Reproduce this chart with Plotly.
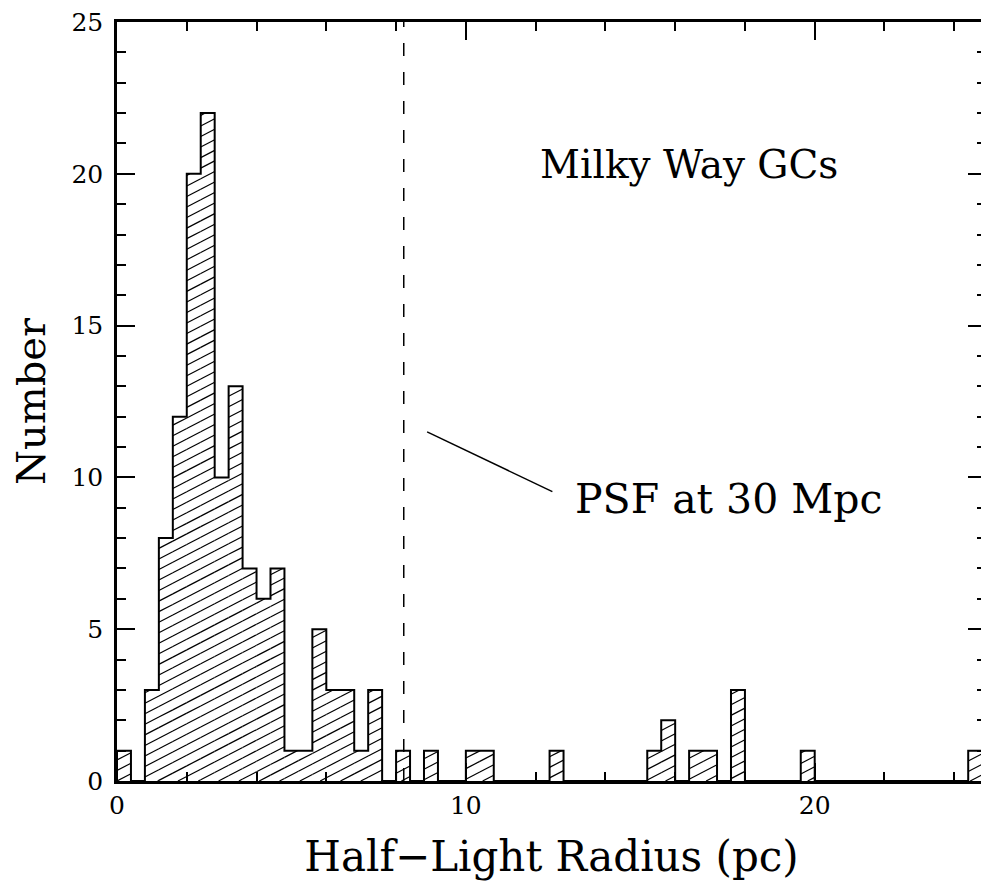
"""Half-light radius distribution of Milky Way globular clusters (Plotly)."""

import numpy as np
import plotly.graph_objects as go

# histogram: bins of 0.4 pc starting at 0
bin_width = 0.4
counts = [
    1, 0, 3, 8, 12, 20, 22, 10, 13, 7,
    6, 7, 1, 1, 5, 3, 3, 1, 3, 0,
    1, 0, 1, 0, 0, 1, 1, 0, 0, 0,
    0, 1, 0, 0, 0, 0, 0, 0, 1, 2,
    0, 1, 1, 0, 3, 0, 0, 0, 0, 1,
    0, 0, 0, 0, 0, 0, 0, 0, 0, 0,
    0, 1,
]
bin_left = [i * bin_width for i in range(len(counts))]

psf_radius = 8.22          # pc, PSF size at 30 Mpc
label_gc = "Milky Way GCs"
label_psf = "PSF at 30 Mpc"
pointer_x = [8.89, 12.48]
pointer_y = [11.5, 9.53]

FONT = "DejaVu Serif"
X_MAX = 24.91
Y_MAX = 25

# the page body adds ~8px around the figure, so the figure is 8px smaller
W, H = 981, 876
M = dict(l=109, r=0, t=10, b=103)

# plot area in pixels (used only to keep the hatch angle like the original)
PX_X = (W - M["l"] - M["r"]) / X_MAX
PX_Y = (H - M["t"] - M["b"]) / Y_MAX

# step outline of the histogram
out_x, out_y = [0.0], [0.0]
for x0, c in zip(bin_left, counts):
    out_x += [x0, x0 + bin_width]
    out_y += [c, c]
out_x.append(bin_left[-1] + bin_width)
out_y.append(0)

# diagonal hatching clipped to each bin
slope = 0.52 * PX_X / PX_Y
spacing = 10.6 / PX_Y
hx, hy = [], []
for x0, c in zip(bin_left, counts):
    if c <= 0:
        continue
    x1 = x0 + bin_width
    k_lo = int(np.floor((-slope * x1) / spacing)) - 1
    k_hi = int(np.ceil((c - slope * x0) / spacing)) + 1
    for k in range(k_lo, k_hi + 1):
        b = k * spacing
        xa = max(x0, (0 - b) / slope)
        xb = min(x1, (c - b) / slope)
        if xb - xa > 1e-6:
            hx += [xa, xb, None]
            hy += [slope * xa + b, slope * xb + b, None]

fig = go.Figure()
fig.add_trace(go.Scatter(
    x=hx, y=hy, mode="lines",
    line=dict(color="black", width=1.2),
    hoverinfo="skip",
))
fig.add_trace(go.Scatter(
    x=out_x, y=out_y, mode="lines",
    line=dict(color="black", width=2),
    hoverinfo="skip",
))
fig.add_trace(go.Scatter(
    x=pointer_x, y=pointer_y, mode="lines",
    line=dict(color="black", width=1.5),
    hoverinfo="skip",
))

fig.add_shape(
    type="line", x0=psf_radius, x1=psf_radius, y0=0, y1=Y_MAX,
    xref="x", yref="y",
    line=dict(color="black", width=1.5, dash="13px,16px"),
)

fig.add_annotation(
    x=12.06, y=20.3, text=label_gc, showarrow=False,
    xanchor="left", yanchor="middle",
    font=dict(family=FONT, size=39, color="black"),
)
fig.add_annotation(
    x=13.08, y=9.3, text=label_psf, showarrow=False,
    xanchor="left", yanchor="middle",
    font=dict(family=FONT, size=41, color="black"),
)

axis_common = dict(
    showline=True, linecolor="black", linewidth=2.5,
    mirror="allticks", ticks="inside", tickcolor="black",
    tickwidth=1.5, showgrid=False, zeroline=False,
    ticklabeloverflow="allow",
    tickfont=dict(family=FONT, size=25, color="black"),
)

fig.update_layout(
    width=W, height=H,
    margin=M,
    paper_bgcolor="white", plot_bgcolor="white",
    showlegend=False,
    xaxis=dict(
        range=[0, X_MAX], tick0=0, dtick=10, ticklen=18,
        minor=dict(dtick=2, ticklen=9, ticks="inside",
                   tickcolor="black", tickwidth=1.5),
        ticklabelstandoff=0,
        title=dict(text="Half\u2212Light Radius (pc)", standoff=23,
                   font=dict(family=FONT, size=42, color="black")),
        **axis_common,
    ),
    yaxis=dict(
        range=[0, Y_MAX], tick0=0, dtick=5, ticklen=18,
        minor=dict(dtick=1, ticklen=9, ticks="inside",
                   tickcolor="black", tickwidth=1.5),
        ticklabelstandoff=6,
        title=dict(text="Number", standoff=25,
                   font=dict(family=FONT, size=40, color="black")),
        **axis_common,
    ),
)

fig.write_html("out.html")
